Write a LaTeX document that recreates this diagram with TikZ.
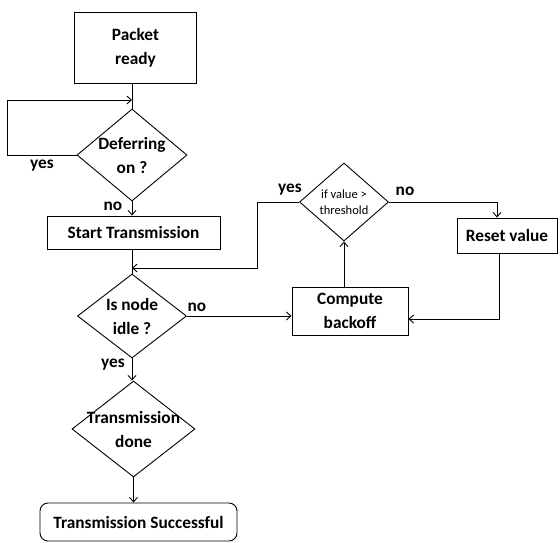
\documentclass[tikz,border=0pt]{standalone}
\usepackage{fontspec}
\setmainfont{Carlito}
\usetikzlibrary{shapes.geometric,arrows.meta}
\begin{document}
\begin{tikzpicture}[x=1pt,y=-1pt,
  line width=0.9pt,
  every node/.style={font=\bfseries\fontsize{17.3}{24}\selectfont, align=center},
  arr/.style={-{Straight Barb[length=4.5pt,width=8pt,line width=0.9pt]}},
  boxnode/.style={draw, rectangle, inner sep=0pt},
  dia/.style={draw, diamond, inner sep=0pt},
  lbl/.style={inner sep=0pt}
]
\useasboundingbox (0,0) rectangle (560,542);
% nodes
\node[boxnode, minimum width=122pt, minimum height=71pt] (packet) at (135.5,47.5) {Packet\\ready};
\node[dia, minimum width=110pt, minimum height=92pt,
  label={[align=center]center:Deferring\\on ?}] (defer) at (132,155) {};
\node[boxnode, minimum width=173pt, minimum height=33pt] (start) at (133.5,232.5) {Start Transmission};
\node[dia, minimum width=109pt, minimum height=84pt,
  label={[align=center]center:Is node\\idle ?}] (idle) at (132,316) {};
\node[dia, minimum width=123pt, minimum height=96pt,
  label={[align=center]center:Transmission\\done}] (done) at (133.5,429) {};
\node[draw, rectangle, rounded corners=8pt, minimum width=197pt, minimum height=38pt, inner sep=0pt] (success) at (138.5,522) {Transmission Successful};
\node[dia, minimum width=89pt, minimum height=78pt,
  label={[align=center, font=\fontsize{12.5}{16}\selectfont]center:if value >\\threshold}] (thresh) at (344,202) {};
\node[boxnode, minimum width=100pt, minimum height=35pt] (reset) at (507,235.5) {Reset value};
\node[boxnode, minimum width=116pt, minimum height=48pt] (compute) at (350,311) {Compute\\backoff};
% helper coordinates
\coordinate (loopL) at (7,100);
\coordinate (yesBend) at (257,268);
% connectors
\draw (defer.north |- packet.south) -- (defer.north);
\draw[arr] (defer.west) -| (loopL) -- (defer.north |- loopL);
\draw[arr] (defer.south) -- (defer.south |- start.north);
\draw (idle.north |- start.south) -- (idle.north);
\draw[arr] (thresh.west) -| (yesBend) -- (idle.north |- yesBend);
\draw[arr] (idle.east) -- (compute.west |- idle.east);
\draw[arr] (idle.south) -- (idle.south |- done.north);
\draw[arr] (done.south) -- (done.south |- success.north);
\draw[arr] (thresh.east) -| ([xshift=-10pt]reset.north);
\draw[arr] ([xshift=-8pt]reset.south) |- ([yshift=-8pt]compute.east);
\draw[arr] (thresh.south |- compute.north) -- (thresh.south);
% labels
\node[lbl] (l1) at (42,166) {yes};
\node[lbl] (l2) at (113,206) {no};
\node[lbl] (l3) at (290,190) {yes};
\node[lbl] (l4) at (405,191) {no};
\node[lbl] (l5) at (197,307) {no};
\node[lbl] (l6) at (113,365) {yes};
\end{tikzpicture}
\end{document}
